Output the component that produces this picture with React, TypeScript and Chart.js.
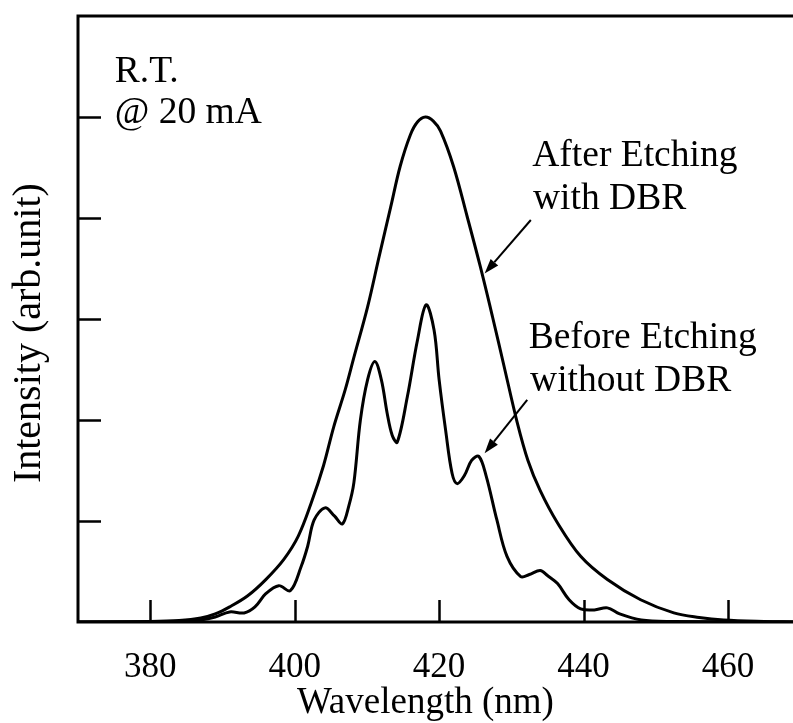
import React, { useEffect, useRef } from "react";
import { Chart, registerables } from "chart.js";

Chart.register(...registerables);

// Wavelength (nm) and intensity (arb. unit)
const afterWavelength = [370, 380, 384, 387, 389, 391, 393.5, 396, 398.5, 400.5, 402.3, 404, 405.4, 407, 408.2, 410.1, 411.7, 413.3, 414.6, 416, 417, 418.1, 419.2, 420.2, 422, 423.9, 425.7, 427.4, 429, 430.8, 432.3, 434, 436.4, 439.6, 443.3, 447.9, 452.5, 456, 459.4, 465, 469];
const afterIntensity = [0, 0.005, 0.015, 0.04, 0.08, 0.15, 0.26, 0.42, 0.62, 0.85, 1.18, 1.55, 1.93, 2.3, 2.62, 3.12, 3.62, 4.11, 4.51, 4.82, 4.95, 5.0, 4.96, 4.86, 4.51, 4.01, 3.52, 3.02, 2.53, 1.98, 1.6, 1.3, 0.98, 0.65, 0.42, 0.22, 0.09, 0.045, 0.02, 0.005, 0];

const beforeWavelength = [370, 380, 385, 387, 389, 391, 393, 394.5, 396, 397.8, 399.4, 400.9, 401.8, 402.7, 404.2, 405.5, 406.6, 407.5, 408.2, 409.1, 410.1, 411.1, 412, 412.8, 413.5, 414.2, 415.6, 417, 418.2, 419.3, 420, 420.9, 421.8, 422.5, 423.5, 424.5, 425.5, 426.5, 428, 429.4, 431.3, 432.5, 434, 435, 436.4, 438, 439.6, 441.5, 443.3, 445, 448, 452, 469];
const beforeIntensity = [0, 0, 0.01, 0.02, 0.05, 0.1, 0.09, 0.15, 0.28, 0.36, 0.31, 0.55, 0.75, 1.01, 1.13, 1.05, 0.97, 1.15, 1.38, 2.0, 2.4, 2.58, 2.4, 2.07, 1.85, 1.78, 2.23, 2.79, 3.14, 2.89, 2.4, 1.9, 1.47, 1.37, 1.45, 1.6, 1.64, 1.45, 1.01, 0.65, 0.45, 0.47, 0.51, 0.46, 0.38, 0.22, 0.13, 0.12, 0.14, 0.08, 0.02, 0.005, 0];

const xTickValues = [380, 400, 420, 440, 460];
const yTickValues = [1, 2, 3, 4, 5];

const xTitle = "Wavelength (nm)";
const yTitle = "Intensity (arb.unit)";

// Annotation texts and their anchor positions in data units [wavelength, intensity]
const noteLines = ["R.T.", "@ 20 mA", "After Etching", "with DBR", "Before Etching", "without DBR"];
const noteX = [375.1, 375.1, 432.9, 433.0, 432.4, 432.6];
const noteY = [5.35, 4.94, 4.51, 4.09, 2.71, 2.29];

// Arrows: tail -> tip in data units
const arrowTailX = [432.7, 432.2];
const arrowTailY = [3.98, 2.20];
const arrowTipX = [426.3, 426.3];
const arrowTipY = [3.45, 1.67];

const SERIF = "'Liberation Serif', 'Times New Roman', serif";

const framePlugin = {
  id: "frameAndNotes",
  afterDraw(chart: any) {
    const { ctx, chartArea } = chart;
    const xs = chart.scales.x;
    const ys = chart.scales.y;
    const { left, right, top, bottom } = chartArea;
    ctx.save();
    ctx.strokeStyle = "#000";
    ctx.fillStyle = "#000";
    ctx.lineCap = "butt";

    // Frame (left, top, bottom)
    ctx.lineWidth = 3;
    ctx.beginPath();
    ctx.moveTo(right + 5, top);
    ctx.lineTo(left, top);
    ctx.lineTo(left, bottom);
    ctx.lineTo(right + 5, bottom);
    ctx.stroke();

    // Inward ticks
    ctx.lineWidth = 2.5;
    ctx.beginPath();
    for (const v of xTickValues) {
      const px = Math.round(xs.getPixelForValue(v)) + 0.5;
      ctx.moveTo(px, bottom);
      ctx.lineTo(px, bottom - 22);
    }
    for (const v of yTickValues) {
      const py = Math.round(ys.getPixelForValue(v)) + 0.5;
      ctx.moveTo(left, py);
      ctx.lineTo(left + 23, py);
    }
    ctx.stroke();

    // Axis titles
    ctx.font = `37px ${SERIF}`;
    ctx.textAlign = "center";
    ctx.textBaseline = "alphabetic";
    ctx.fillText(xTitle, xs.getPixelForValue(418.1), 713);

    ctx.save();
    ctx.translate(40, ys.getPixelForValue(2.86));
    ctx.rotate(-Math.PI / 2);
    ctx.font = `40px ${SERIF}`;
    ctx.fillText(yTitle, 0, 0);
    ctx.restore();

    // Notes
    ctx.font = `37.5px ${SERIF}`;
    ctx.textAlign = "left";
    for (let i = 0; i < noteLines.length; i++) {
      ctx.fillText(noteLines[i], xs.getPixelForValue(noteX[i]), ys.getPixelForValue(noteY[i]));
    }

    // Arrows
    ctx.lineWidth = 2;
    for (let i = 0; i < arrowTipX.length; i++) {
      const x0 = xs.getPixelForValue(arrowTailX[i]);
      const y0 = ys.getPixelForValue(arrowTailY[i]);
      const x1 = xs.getPixelForValue(arrowTipX[i]);
      const y1 = ys.getPixelForValue(arrowTipY[i]);
      const ang = Math.atan2(y1 - y0, x1 - x0);
      const hl = 15;
      const hw = 5;
      const bx = x1 - hl * Math.cos(ang);
      const by = y1 - hl * Math.sin(ang);
      ctx.beginPath();
      ctx.moveTo(x0, y0);
      ctx.lineTo(bx, by);
      ctx.stroke();
      ctx.beginPath();
      ctx.moveTo(x1, y1);
      ctx.lineTo(bx + hw * Math.sin(ang), by - hw * Math.cos(ang));
      ctx.lineTo(bx - hw * Math.sin(ang), by + hw * Math.cos(ang));
      ctx.closePath();
      ctx.fill();
    }
    ctx.restore();
  },
};

export default function App() {
  const canvasRef = useRef<HTMLCanvasElement | null>(null);

  useEffect(() => {
    document.body.style.margin = "0";
    const canvas = canvasRef.current;
    if (!canvas) return;
    const afterData = afterWavelength.map((x, i) => ({ x, y: afterIntensity[i] }));
    const beforeData = beforeWavelength.map((x, i) => ({ x, y: beforeIntensity[i] }));
    const chart = new Chart(canvas, {
      type: "line",
      data: {
        datasets: [
          {
            label: "After Etching with DBR",
            data: afterData,
            borderColor: "#000",
            borderWidth: 3,
            pointRadius: 0,
            fill: false,
            tension: 0.35,
          },
          {
            label: "Before Etching without DBR",
            data: beforeData,
            borderColor: "#000",
            borderWidth: 3,
            pointRadius: 0,
            fill: false,
            tension: 0.35,
          },
        ],
      },
      options: {
        animation: false,
        responsive: false,
        devicePixelRatio: 1,
        layout: { padding: { top: 16, left: 0, right: 0, bottom: 0 } },
        plugins: { legend: { display: false }, tooltip: { enabled: false } },
        scales: {
          x: {
            type: "linear",
            min: 370,
            max: 469,
            grid: { display: false },
            border: { display: false },
            ticks: {
              color: "#000",
              font: { family: SERIF, size: 35, lineHeight: 1 },
              padding: 20,
              maxRotation: 0,
              autoSkip: false,
            },
            afterBuildTicks: (scale: any) => {
              scale.ticks = xTickValues.map((value) => ({ value }));
            },
            afterFit: (scale: any) => {
              scale.height = 101;
            },
          },
          y: {
            type: "linear",
            min: 0,
            max: 6,
            grid: { display: false },
            border: { display: false },
            ticks: { display: false },
            afterFit: (scale: any) => {
              scale.width = 78;
            },
          },
        },
      },
      plugins: [framePlugin],
    });
    return () => chart.destroy();
  }, []);

  return (
    <div style={{ width: 793, height: 723, background: "#fff" }}>
      <canvas ref={canvasRef} width={793} height={723} style={{ display: "block" }} />
    </div>
  );
}
